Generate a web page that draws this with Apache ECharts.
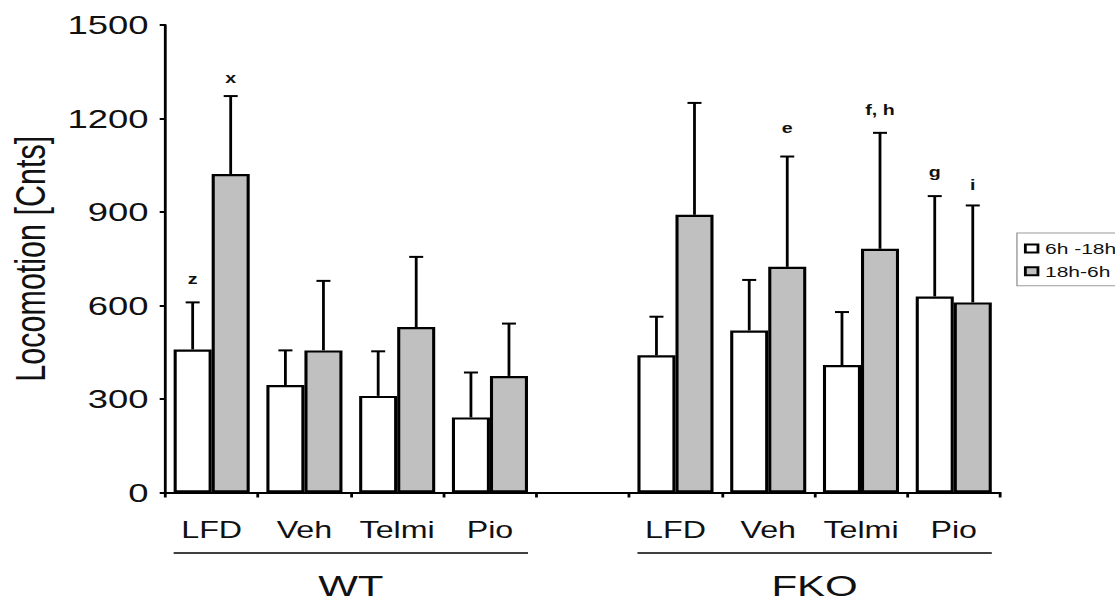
<!DOCTYPE html>
<html>
<head>
<meta charset="utf-8">
<script src="https://cdn.jsdelivr.net/npm/echarts@6/dist/echarts.min.js"></script>
<style>
  html, body { margin: 0; padding: 0; background: #fff; }
  #wrap { width: 1115px; height: 602px; overflow: hidden; position: relative; }
  #chart { width: 796px; height: 602px; transform: scaleX(1.40075); transform-origin: 0 0; }
</style>
</head>
<body>
<div id="wrap"><div id="chart"></div></div>
<script>
// ---- data ----
const categories = ['LFD', 'Veh', 'Telmi', 'Pio', '', 'LFD', 'Veh', 'Telmi', 'Pio'];
const seriesNames = ['6h -18h', '18h-6h'];
const dayMeans   = [459, 345, 310, 241, '-', 440, 520, 409, 629];
const dayUpper   = [610, 456, 453, 385, '-', 564, 682, 579, 951];
const nightMeans = [1022, 456, 531, 374, '-', 891, 724, 782, 610];
const nightUpper = [1272, 679, 756, 542, '-', 1250, 1078, 1154, 921];
const yTicks = [0, 300, 600, 900, 1200, 1500];
// annotation letters: category index, bar (0 = day, 1 = night), text, height
const annotCat   = [0, 0, 6, 7, 8, 8];
const annotBar   = [0, 1, 1, 1, 0, 1];
const annotText  = ['z', 'x', 'e', 'f, h', 'g', 'i'];
const annotValue = [684, 1328, 1168, 1225, 1028, 984];
// group brackets under the axis
const groupNames = ['WT', 'FKO'];
const groupStart = [0, 5];
const groupEnd   = [3, 8];

const FONT = "'Liberation Sans', Arial, Helvetica, sans-serif";
const CAT_GAP = 0.18;

function errData(means, upper) {
  const out = [];
  means.forEach((m, i) => { if (m !== '-') out.push([i, m, upper[i]]); });
  return out;
}

function errRender(side) {
  return function (params, api) {
    const c = api.coord([api.value(0), api.value(1)]);
    const t = api.coord([api.value(0), api.value(2)]);
    const bw = api.size([1, 0])[0];
    const x = c[0] + side * bw * (1 - CAT_GAP) / 4;
    const capHalf = 5;
    const st = { stroke: '#000', lineWidth: 2 };
    return {
      type: 'group',
      children: [
        { type: 'line', shape: { x1: x, y1: c[1], x2: x, y2: t[1] }, style: st },
        { type: 'line', shape: { x1: x - capHalf, y1: t[1], x2: x + capHalf, y2: t[1] }, style: st }
      ]
    };
  };
}

const annotData = annotCat.map((c, i) => [c, annotValue[i]]);

const chart = echarts.init(document.getElementById('chart'), null, { renderer: 'svg' });
const option = {
  animation: false,
  backgroundColor: '#fff',
  textStyle: { fontFamily: FONT },
  grid: { left: 118, right: 82, top: 25, bottom: 109.5, containLabel: false, outerBoundsMode: 'none' },
  legend: {
    data: seriesNames,
    orient: 'vertical',
    left: 726, top: 233,
    itemWidth: 9, itemHeight: 8, itemGap: 7.7,
    padding: [8, 5, 7, 5],
    borderColor: '#9a9a9a', borderWidth: 1,
    icon: 'rect',
    itemStyle: { borderColor: '#000', borderWidth: 2 },
    textStyle: { fontSize: 15, color: '#111', fontFamily: FONT }
  },
  xAxis: {
    type: 'category',
    data: categories,
    axisLine: { lineStyle: { color: '#000', width: 2 } },
    axisTick: { show: true, length: 5, lineStyle: { color: '#000', width: 2 } },
    axisLabel: { fontSize: 23, color: '#111', margin: 26, fontFamily: FONT, interval: 0 },
    splitLine: { show: false }
  },
  yAxis: {
    type: 'value',
    min: yTicks[0], max: yTicks[yTicks.length - 1], interval: yTicks[1] - yTicks[0],
    name: 'Locomotion [Cnts]',
    nameLocation: 'middle',
    nameGap: 80,
    nameTextStyle: { fontSize: 30.5, color: '#111', fontFamily: FONT },
    axisLine: { show: true, lineStyle: { color: '#000', width: 2 } },
    axisTick: { show: true, length: 4, lineStyle: { color: '#000', width: 2 } },
    axisLabel: { fontSize: 26, color: '#111', margin: 12, fontFamily: FONT,
                 formatter: function (v) { return String(v); } },
    splitLine: { show: false }
  },
  series: [
    {
      name: seriesNames[0], type: 'bar', data: dayMeans,
      barGap: '0%', barCategoryGap: (CAT_GAP * 100) + '%',
      itemStyle: { color: '#ffffff', borderColor: '#000', borderWidth: 2.2 }
    },
    {
      name: seriesNames[1], type: 'bar', data: nightMeans,
      barGap: '0%', barCategoryGap: (CAT_GAP * 100) + '%',
      itemStyle: { color: '#c0c0c0', borderColor: '#000', borderWidth: 2.2 }
    },
    {
      name: 'err-day', type: 'custom', data: errData(dayMeans, dayUpper),
      renderItem: errRender(-1), encode: { x: 0, y: [1, 2] }, z: 5, silent: true
    },
    {
      name: 'err-night', type: 'custom', data: errData(nightMeans, nightUpper),
      renderItem: errRender(1), encode: { x: 0, y: [1, 2] }, z: 5, silent: true
    },
    {
      name: 'annotations', type: 'custom', data: annotData,
      encode: { x: 0, y: 1 }, z: 6, silent: true,
      renderItem: function (params, api) {
        const i = params.dataIndex;
        const p = api.coord([api.value(0), api.value(1)]);
        const bw = api.size([1, 0])[0];
        const side = annotBar[i] === 0 ? -1 : 1;
        return {
          type: 'text',
          style: {
            x: p[0] + side * bw * (1 - CAT_GAP) / 4, y: p[1],
            text: annotText[i], align: 'center', verticalAlign: 'middle',
            fontSize: 14, fontWeight: 'bold', fontFamily: FONT, fill: '#111'
          }
        };
      }
    }
  ]
};
chart.setOption(option);

// group brackets placed through the category axis
function drawGroups() {
  const c0 = chart.convertToPixel({ xAxisIndex: 0 }, 0);
  const c1 = chart.convertToPixel({ xAxisIndex: 0 }, 1);
  const bw = c1 - c0;
  const yBase = chart.convertToPixel({ yAxisIndex: 0 }, 0);
  const half = bw * (1 - CAT_GAP) / 2;
  const elements = [];
  groupNames.forEach((g, k) => {
    const xs = chart.convertToPixel({ xAxisIndex: 0 }, groupStart[k]) - half;
    const xe = chart.convertToPixel({ xAxisIndex: 0 }, groupEnd[k]) + half;
    elements.push({
      type: 'line', silent: true,
      shape: { x1: xs, y1: yBase + 60.5, x2: xe, y2: yBase + 60.5 },
      style: { stroke: '#000', lineWidth: 1.6 }
    });
    elements.push({
      type: 'text', silent: true,
      x: (xs + xe) / 2, y: yBase + 93,
      style: { text: g, align: 'center', verticalAlign: 'middle', fontSize: 30, lineHeight: 24,
               fontFamily: FONT, fill: '#111' }
    });
  });
  chart.setOption({ graphic: { elements: elements } });
}
drawGroups();
</script>
</body>
</html>
